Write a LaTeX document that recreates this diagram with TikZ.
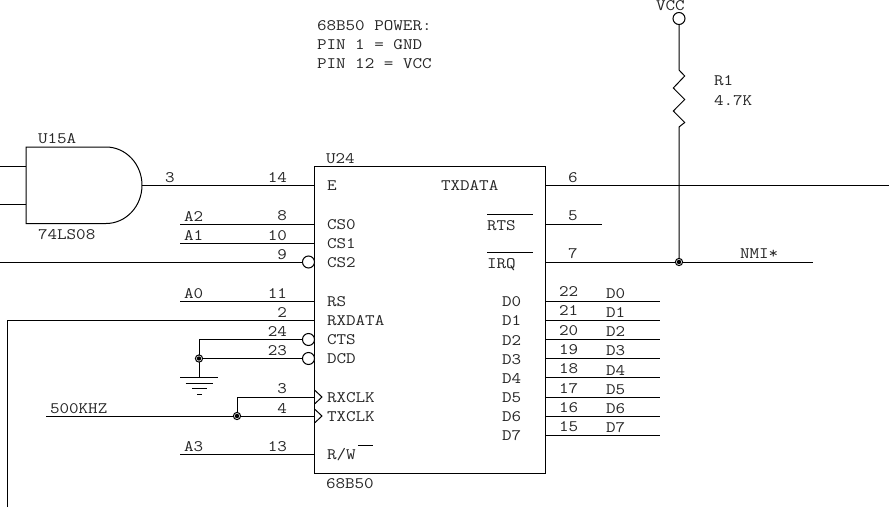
\documentclass[tikz,border=0pt]{standalone}
\usepackage{fontspec}
\setmainfont[FakeStretch=1.16]{Latin Modern Mono}
\usetikzlibrary{calc}
\begin{document}
\begin{tikzpicture}[x=0.75pt,y=-0.75pt,line width=0.75pt,
  lbl/.style={anchor=base west,inner sep=0pt,outer sep=0pt,font=\fontsize{12pt}{12pt}\selectfont,text=black!85},
  pinr/.style={anchor=base east,inner sep=0pt,outer sep=0pt,font=\fontsize{12pt}{12pt}\selectfont,text=black!85},
  bub/.style={circle,draw,fill=white,minimum size=9pt,inner sep=0pt,outer sep=0pt},
  joint/.style={circle,draw,fill=white,minimum size=5.4pt,inner sep=0pt,outer sep=0pt}]
\useasboundingbox (0,0) rectangle (889,507);
% chip
\node[draw,rectangle,minimum width=172.9pt,minimum height=230.6pt,inner sep=0pt,outer sep=0pt,anchor=north west] (u24) at (314.5,166.5) {};
% pin ends on the chip
\foreach \n/\y in {e/185,csa/224,csb/243,csc/262,rs/301,rx/320,cts/339.5,dcd/358.5,rck/397,tck/416,rw/454}
  \coordinate (p\n) at (314.5,\y);
\foreach \n/\y in {tx/185,rts/224,irq/262,da/301,db/320,dc/339.5,dd/358.5,de/377.5,df/397,dg/416,dh/435}
  \coordinate (q\n) at (545,\y);
% AND gate
\coordinate (ga) at (26,147);
\coordinate (gb) at (26,223.5);
\draw (ga) -- (106,147) arc[start angle=-90,end angle=90,x radius=36,y radius=38.25] -- (gb) -- cycle;
\coordinate (gout) at (142,185);
\coordinate (gia) at (26,166);
\coordinate (gib) at (26,204.5);
\coordinate (lia) at (0,166);
\coordinate (lib) at (0,204.5);
\draw (lia) -- (gia);
\draw (lib) -- (gib);
\draw (gout) -- (pe);
% left free ends
\foreach \n/\y in {csa/224,csb/243,rs/301,rw/454}
  \coordinate (f\n) at (180,\y);
\draw (fcsa) -- (pcsa);
\draw (fcsb) -- (pcsb);
\draw (frs) -- (prs);
\draw (frw) -- (prw);
% CS2
\coordinate (fcsc) at (0,262);
\node[bub] (bcsc) at (308.5,262) {};
\draw (fcsc) -- (bcsc);
% RXDATA
\coordinate (frx) at (7.5,507);
\draw (frx) |- (prx);
% CTS DCD ground
\node[bub] (bcts) at (308.5,339.5) {};
\node[bub] (bdcd) at (308.5,358.5) {};
\coordinate (gnd) at (199,377);
\coordinate (gtop) at (199,339.5);
\draw (bcts) -- (gtop) -- (gnd);
\node[joint] (jdcd) at (199,358.5) {};
\fill (jdcd) circle (2.2);
\draw (jdcd) -- (bdcd);
\draw (180,377) -- (218,377);
\draw (185.5,383) -- (212.5,383);
\draw (192,388.5) -- (206.5,388.5);
\draw (197,394.5) -- (201.5,394.5);
% clocks
\coordinate (fck) at (46,416);
\coordinate (ctop) at (237,397);
\draw (fck) -- (ptck);
\draw (prck) -- (ctop);
\draw (ctop) -- (237,416);
\node[joint] (jck) at (237,416) {};
\fill (jck) circle (2.2);
\draw (314.5,390) -- (322,397) -- (314.5,404);
\draw (314.5,409) -- (322,416) -- (314.5,423);
% data pins
\foreach \n in {da,db,dc,dd,de,df,dg,dh} {
  \coordinate (r\n) at ($(q\n)+(115,0)$);
  \draw (q\n) -- (r\n);
}
% TX, RTS, IRQ
\coordinate (rtx) at (889,185);
\coordinate (rrts) at (602,224);
\coordinate (rirq) at (813,262);
\draw (qtx) -- (rtx);
\draw (qrts) -- (rrts);
\draw (qirq) -- (rirq);
% VCC and resistor
\node[bub] (vcc) at (679,18.5) {};
\node[joint] (jnmi) at (679,262) {};
\draw (vcc) -- (679,70) -- (684.7,76) -- (673.3,88) -- (684.7,99.5) -- (673.3,111) -- (684.7,122.5) -- (679,127) -- (jnmi);
\fill (jnmi) circle (2.2);
% overbars
\draw (487,214) -- (533,214);
\draw (487,252.5) -- (533,252.5);
\draw (358,445) -- (373,445);
% gate and chip labels
\node[lbl] (t1) at (38,143.5) {U15A};
\node[lbl] (t2) at (38,239.5) {74LS08};
\node[lbl] (t3) at (326,163) {U24};
\node[lbl] (t4) at (326,488) {68B50};
\node[lbl] (t5) at (317,30) {68B50 POWER:};
\node[lbl] (t6) at (317,49.5) {PIN 1 = GND};
\node[lbl] (t7) at (317,68) {PIN 12 = VCC};
\node[lbl] (t8) at (656,10.5) {VCC};
\node[lbl] (t9) at (714,85) {R1};
\node[lbl] (t10) at (714,105) {4.7K};
\node[lbl] (t11) at (740,258) {NMI*};
\node[lbl] (t12) at (50,413) {500KHZ};
% net names left
\node[lbl] (n1) at (184,221) {A2};
\node[lbl] (n2) at (184,240) {A1};
\node[lbl] (n3) at (184,298) {A0};
\node[lbl] (n4) at (184,451) {A3};
% pin numbers left
\node[lbl] (a0) at (165,182) {3};
\foreach \t/\y in {14/182,8/220.5,10/240,9/259,11/298,2/317,24/336.5,23/355,3/393.5,4/413,13/451}
  \node[pinr] (a\t) at (287,\y) {\t};
% chip pin names left
\foreach \t/\y/\i in {E/190/1,CS0/229/2,CS1/248/3,CS2/267/4,RS/306/5,RXDATA/325/6,CTS/344/7,DCD/363/8,RXCLK/402/9,TXCLK/421/10,R\slash W/459/11}
  \node[lbl] (c\i) at (327,\y) {\t};
% chip pin names right
\node[lbl] (c12) at (441,190) {TXDATA};
\node[lbl] (c13) at (487,230) {RTS};
\node[lbl] (c14) at (487,268) {IRQ};
\foreach \i/\y in {0/306.5,1/325.5,2/345,3/364,4/383,5/402,6/421.5,7/440.5}
  \node[lbl] (d\i) at (502,\y) {D\i};
% pin numbers right
\node[lbl] (b6) at (568,182) {6};
\node[lbl] (b5) at (568,220) {5};
\node[lbl] (b7) at (568,258) {7};
\foreach \t/\y in {22/296.5,21/315.5,20/335,19/354,18/373.5,17/393,16/412,15/431}
  \node[lbl] (b\t) at (559,\y) {\t};
% net names right
\foreach \i/\y in {0/298,1/317,2/336.5,3/355.5,4/375,5/394,6/413,7/432.5}
  \node[lbl] (e\i) at (606,\y) {D\i};
\end{tikzpicture}
\end{document}
